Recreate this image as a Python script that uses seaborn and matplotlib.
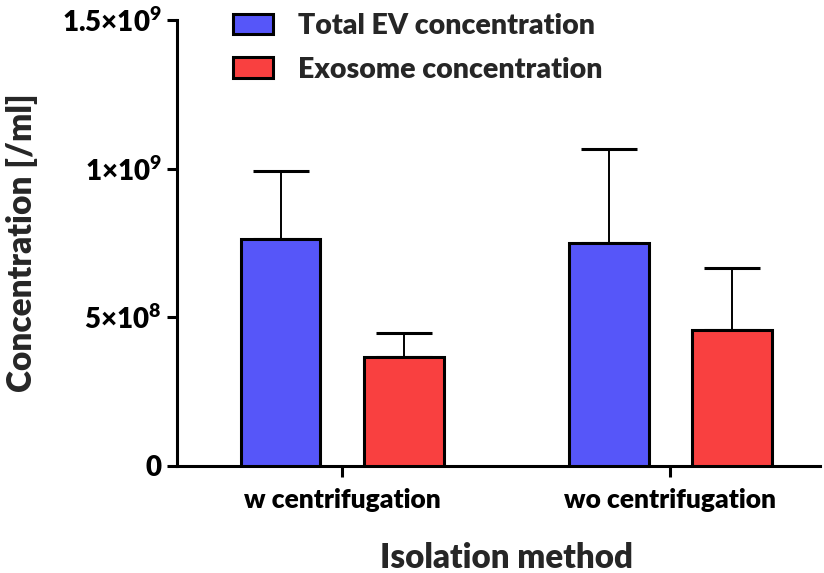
import matplotlib
matplotlib.use("Agg")
import matplotlib.pyplot as plt
from matplotlib.patches import Patch
from matplotlib.ticker import FixedLocator, FixedFormatter
import seaborn as sns
import pandas as pd

# data
methods = ["w centrifugation", "wo centrifugation"]
series = ["Total EV concentration", "Exosome concentration"]
total_mean = [7.65e8, 7.50e8]
total_sd = [2.28e8, 3.17e8]
exo_mean = [3.67e8, 4.57e8]
exo_sd = [0.80e8, 2.10e8]
y_ticks = [0, 5e8, 1e9, 1.5e9]
y_tick_labels = ["0", r"5×10$^{8}$", r"1×10$^{9}$", r"1.5×10$^{9}$"]
colors = ["#5656F9", "#F94040"]

sns.set_theme(style="ticks")
plt.rcParams["font.family"] = ["Lato", "DejaVu Sans"]
plt.rcParams["font.weight"] = "heavy"
plt.rcParams["mathtext.fontset"] = "custom"
plt.rcParams["mathtext.rm"] = "Lato:heavy"
plt.rcParams["mathtext.bf"] = "Lato:heavy"
plt.rcParams["mathtext.default"] = "rm"

W = "heavy"

df = pd.DataFrame({
    "method": methods * 2,
    "series": [series[0]] * 2 + [series[1]] * 2,
    "value": total_mean + exo_mean,
})
sds = [total_sd, exo_sd]

fig = plt.figure(figsize=(8.24, 5.73), dpi=100)
ax = fig.add_axes([177 / 824, 1 - 466 / 573, 643 / 824, 446 / 573])

sns.barplot(data=df, x="method", y="value", hue="series", palette=colors,
            width=0.75, gap=0.35, saturation=1, edgecolor="black", linewidth=2.2,
            errorbar=None, legend=False, ax=ax, zorder=3)

# one-sided (upward) error bars
for cont, sd in zip(ax.containers, sds):
    for bar, s in zip(cont, sd):
        x = bar.get_x() + bar.get_width() / 2
        ax.errorbar(x, bar.get_height(), yerr=[[0], [s]], fmt="none",
                    ecolor="black", elinewidth=1.4, capsize=20, capthick=2.2,
                    zorder=2)

ax.set_xlim(-0.503, 1.457)
ax.set_ylim(0, 1.5e9)
ax.yaxis.set_major_locator(FixedLocator(y_ticks))
ax.yaxis.set_major_formatter(FixedFormatter(y_tick_labels))

for side in ["top", "right"]:
    ax.spines[side].set_visible(False)
for side in ["left", "bottom"]:
    ax.spines[side].set_linewidth(2.2)
    ax.spines[side].set_color("black")

ax.tick_params(axis="y", length=7, width=2.2, labelsize=20, pad=4, colors="black")
ax.tick_params(axis="x", length=8, width=2.2, labelsize=19, pad=8, colors="black")
for lab in ax.get_xticklabels() + ax.get_yticklabels():
    lab.set_fontweight(W)

ax.set_xlabel("Isolation method", fontsize=23.8, fontweight=W)
ax.set_ylabel("Concentration [/ml]", fontsize=24, fontweight=W)
ax.xaxis.set_label_coords(0.513, -0.171)
ax.yaxis.set_label_coords(-0.216, 0.5)

handles = [Patch(facecolor=c, edgecolor="black", linewidth=2.2) for c in colors]
fig.legend(handles, series, loc="upper left", bbox_to_anchor=(233 / 824, 1 - 13 / 573),
           frameon=False, borderpad=0, borderaxespad=0,
           handlelength=1.4, handleheight=0.75, handletextpad=0.9, labelspacing=0.62,
           prop={"weight": W, "size": 20.5})

fig.savefig("out.png", dpi=100, facecolor="white")
